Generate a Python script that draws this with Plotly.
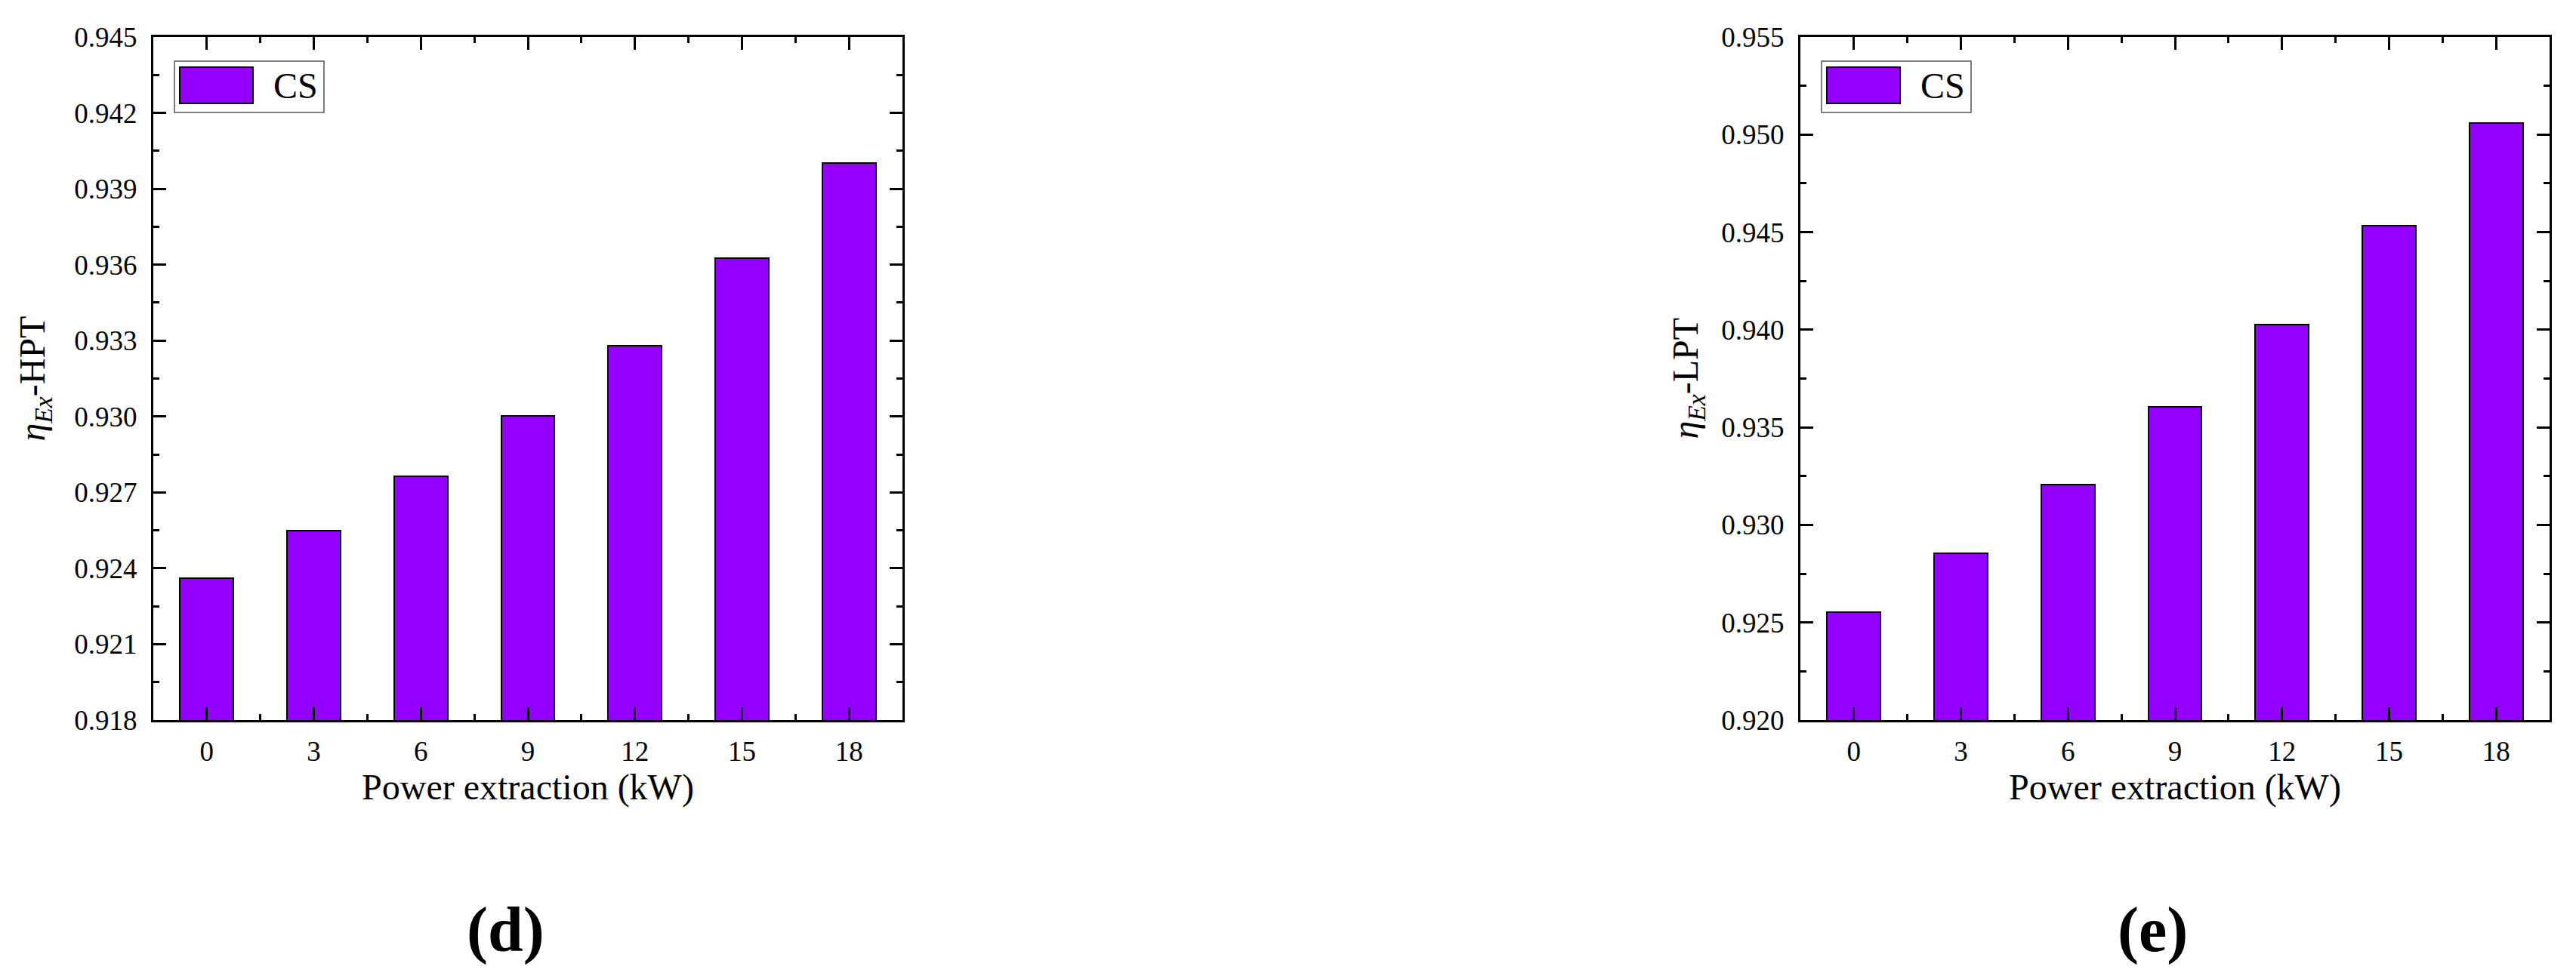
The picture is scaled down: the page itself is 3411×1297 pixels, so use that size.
import plotly.graph_objects as go

# power extraction levels (kW)
power = [0, 3, 6, 9, 12, 15, 18]

# exergy efficiency of the high / low pressure turbine, case CS
eta_hpt = [0.92362, 0.92550, 0.92764, 0.93003, 0.93279, 0.93625, 0.94002]
eta_lpt = [0.92553, 0.92853, 0.93208, 0.93605, 0.94026, 0.94535, 0.95059]

series_name = 'CS'
panel_labels = ['(d)', '(e)']
y_titles = ['<i>η</i><sub><i>Ex</i></sub>-HPT', '<i>η</i><sub><i>Ex</i></sub>-LPT']
x_title = 'Power extraction (kW)'

bar_color = '#9300FF'
font_name = 'Liberation Serif, Times New Roman, DejaVu Serif, serif'

# page body adds an 8px margin, so the figure is 8px smaller than the window
W, H = 3403, 1289

fig = go.Figure()

fig.add_trace(go.Bar(x=power, y=eta_hpt, width=1.5, name=series_name,
                     marker=dict(color=bar_color, line=dict(color='black', width=2)),
                     xaxis='x', yaxis='y', showlegend=False))
fig.add_trace(go.Bar(x=power, y=eta_lpt, width=1.5, name=series_name,
                     marker=dict(color=bar_color, line=dict(color='black', width=2)),
                     xaxis='x2', yaxis='y2', showlegend=False))

ydom = [1 - 946 / H, 1 - 41 / H]
xdoms = [[195 / W, 1187 / W], [2376 / W, 3368 / W]]

def xaxis_style(dom, anchor):
    return dict(domain=dom, anchor=anchor, range=[-1.5, 19.5], automargin=False,
                tickmode='array', tickvals=power, ticks='inside', ticklen=17, tickwidth=3,
                tickcolor='black', showline=True, linecolor='black', linewidth=3,
                mirror='ticks', showgrid=False, zeroline=False,
                minor=dict(tickmode='array', tickvals=[1.5, 4.5, 7.5, 10.5, 13.5, 16.5],
                           ticks='inside', ticklen=8, tickwidth=3, tickcolor='black', showgrid=False),
                tickfont=dict(family=font_name, size=37, color='black'),
                ticklabelstandoff=7,
                title=dict(text=x_title, standoff=10,
                           font=dict(family=font_name, size=48, color='black')))

def yaxis_style(anchor, rng, dtick):
    return dict(domain=ydom, anchor=anchor, range=rng, dtick=dtick, tick0=rng[0], automargin=False,
                tickformat='.3f', ticks='inside', ticklen=17, tickwidth=3, tickcolor='black',
                showline=True, linecolor='black', linewidth=3, mirror='ticks',
                showgrid=False, zeroline=False,
                minor=dict(dtick=dtick / 2, tick0=rng[0], ticks='inside', ticklen=8, tickwidth=3,
                           tickcolor='black', showgrid=False),
                tickfont=dict(family=font_name, size=37, color='black'),
                ticklabelstandoff=11)

fig.update_layout(
    width=W, height=H,
    margin=dict(l=0, r=0, t=0, b=0, autoexpand=False),
    paper_bgcolor='white', plot_bgcolor='white',
    bargap=0,
    xaxis=xaxis_style(xdoms[0], 'y'),
    yaxis=yaxis_style('x', [0.918, 0.945], 0.003),
    xaxis2=xaxis_style(xdoms[1], 'y2'),
    yaxis2=yaxis_style('x2', [0.920, 0.955], 0.005),
)

# y titles
for x_px, title in zip([37, 2226], y_titles):
    fig.add_annotation(xref='paper', yref='paper', x=x_px / W, y=1 - 493.5 / H, text=title,
                       textangle=-90, showarrow=False, xanchor='center', yanchor='middle',
                       font=dict(family=font_name, size=48, color='black'))

# legend boxes drawn by hand so the swatch is as big as in the original
for xr, yr in [('x domain', 'y domain'), ('x2 domain', 'y2 domain')]:
    fig.add_shape(type='rect', xref=xr, yref=yr, x0=0.0282, x1=0.2278, y0=0.8895, y1=0.9646,
                  line=dict(color='#555555', width=1.5), fillcolor='white', layer='above')
    fig.add_shape(type='rect', xref=xr, yref=yr, x0=0.0353, x1=0.1331, y0=0.9028, y1=0.9558,
                  line=dict(color='black', width=2), fillcolor=bar_color, layer='above')
    fig.add_annotation(xref=xr, yref=yr, x=0.190, y=0.929, text=series_name, showarrow=False,
                       xanchor='center', yanchor='middle',
                       font=dict(family=font_name, size=48, color='black'))

# panel letters
for x_px, label in zip([661, 2842], panel_labels):
    fig.add_annotation(xref='paper', yref='paper', x=x_px / W, y=1 - 1224 / H, text='<b>' + label + '</b>',
                       showarrow=False, xanchor='center', yanchor='middle',
                       font=dict(family=font_name, size=84, color='black'))

fig.write_html('out.html')
